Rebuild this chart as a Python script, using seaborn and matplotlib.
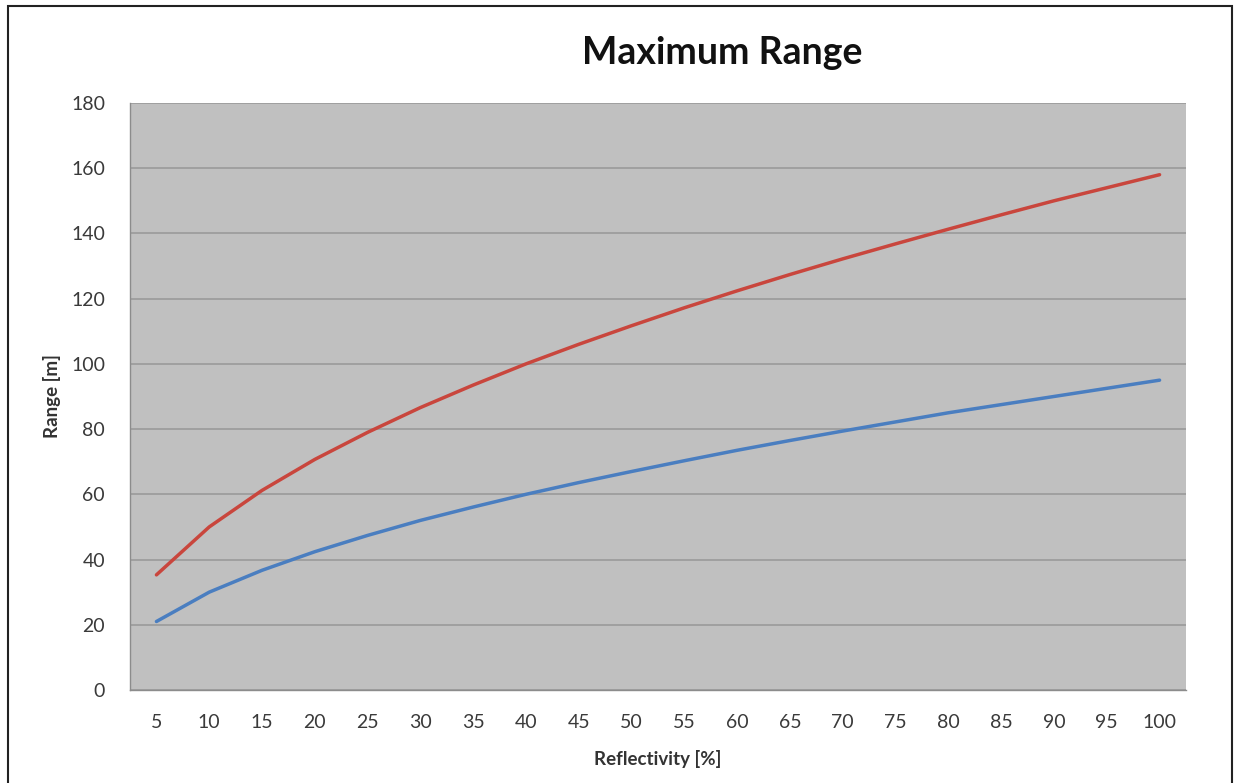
import numpy as np
import pandas as pd
import matplotlib
matplotlib.use("Agg")
import matplotlib.pyplot as plt
import seaborn as sns
from matplotlib.patches import Rectangle
from matplotlib.ticker import FixedLocator

reflectivity = [5, 10, 15, 20, 25, 30, 35, 40, 45, 50,
                55, 60, 65, 70, 75, 80, 85, 90, 95, 100]
range_red = [35.3, 50, 61.2, 70.7, 79, 86.6, 93.5, 100, 106, 111.7,
             117.2, 122.4, 127.4, 132.2, 136.8, 141.3, 145.7, 150, 154, 158]
range_blue = [21, 30, 36.7, 42.4, 47.4, 52, 56.1, 60, 63.6, 67,
              70.3, 73.5, 76.5, 79.4, 82.2, 85, 87.5, 90, 92.5, 95]

sns.set_style("white")
plt.rcParams['font.family'] = ['Lato', 'DejaVu Sans']

df = pd.DataFrame({
    "Reflectivity": [str(r) for r in reflectivity] * 2,
    "Range": range_red + range_blue,
    "Series": ["red"] * len(reflectivity) + ["blue"] * len(reflectivity),
})

fig = plt.figure(figsize=(12.35, 7.83), dpi=100)
ax = fig.add_axes([0.1053, 0.1188, 0.8550, 0.7497])
ax.set_facecolor("#c0c0c0")

sns.lineplot(data=df, x="Reflectivity", y="Range", hue="Series",
             palette={"red": "#c9463d", "blue": "#4a7ec0"},
             linewidth=2.5, legend=False, ax=ax, sort=False)

ax.set_ylim(0, 180)
ax.set_yticks(np.arange(0, 181, 20))
ax.set_xlim(-0.5, len(reflectivity) - 0.5)
ax.set_xticks(range(len(reflectivity)))
ax.set_xticklabels([str(r) for r in reflectivity])
ax.xaxis.set_minor_locator(FixedLocator(np.arange(-0.5, len(reflectivity), 1)))

ax.grid(axis="y", color="#9a9a9a", linewidth=1.2)
ax.set_axisbelow(True)
for side in ["top", "right"]:
    ax.spines[side].set_visible(False)
for side in ["left", "bottom"]:
    ax.spines[side].set_color("#8c8c8c")
    ax.spines[side].set_linewidth(1.0)

ax.tick_params(axis="x", which="major", length=0, pad=17, labelsize=14, labelcolor="#3a3a3a")
ax.tick_params(axis="x", which="minor", length=6, color="#8c8c8c", direction="out")
ax.tick_params(axis="y", which="major", length=6, color="#8c8c8c", direction="out",
               pad=12, labelsize=14, labelcolor="#3a3a3a")

ax.set_xlabel("Reflectivity [%]", fontsize=13.5, fontweight="bold", color="#333333", labelpad=14)
ax.set_ylabel("Range [m]", fontsize=13.5, fontweight="bold", color="#333333", labelpad=7)

fig.text(722 / 1235, 1 - 53 / 783, "Maximum Range", fontsize=27, fontweight="bold",
         ha="center", va="center", color="#111111")

fig.patches.append(Rectangle((8 / 1235, -0.05), 1224 / 1235, 1.05 - 6 / 783,
                             transform=fig.transFigure, fill=False,
                             edgecolor="#222222", linewidth=1.5))

fig.savefig("out.png", dpi=100)
